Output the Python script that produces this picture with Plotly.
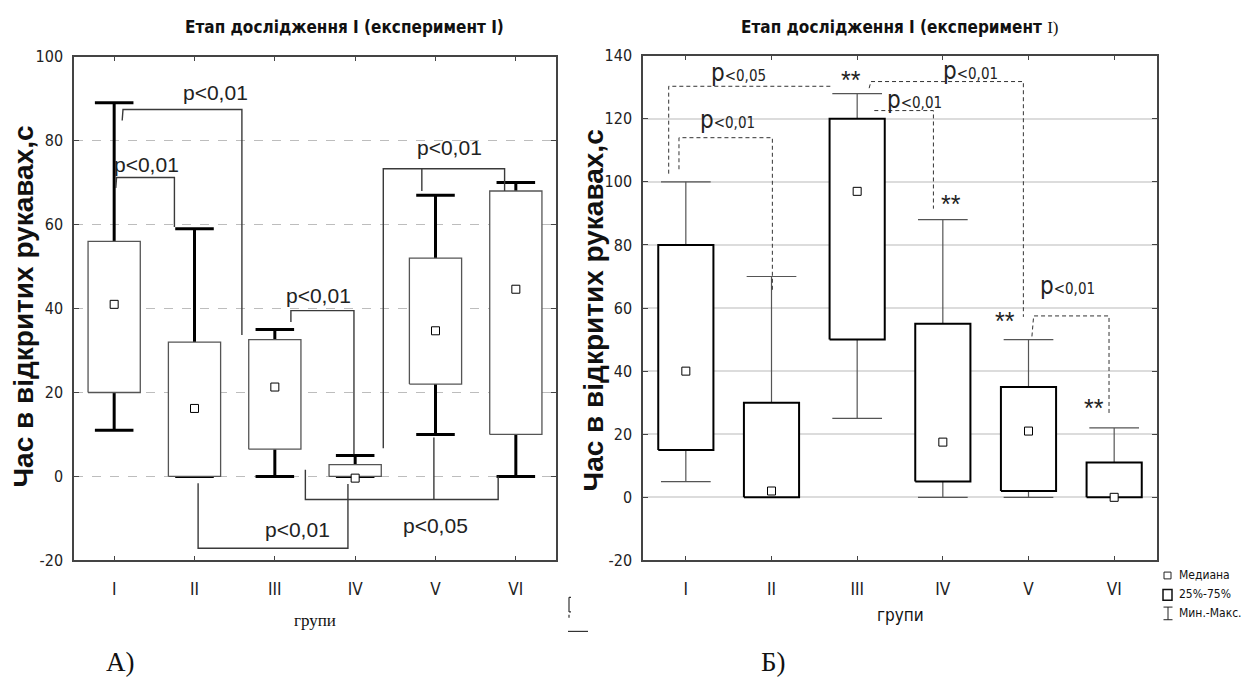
import plotly.graph_objects as go

W, H = 1246, 691

# ---------------- data ----------------
groups = ["I", "II", "III", "IV", "V", "VI"]
positions = [1, 2, 3, 4, 5, 6]

# Panel A (left)
a_min = [11, 0, 0, 0, 10, 0]
a_q1 = [20, 0, 6.5, 0, 22, 10]
a_med = [41, 16.2, 21.3, -0.4, 34.7, 44.6]
a_q3 = [56, 32, 32.6, 2.8, 52, 68]
a_max = [89, 59, 35, 5, 67, 70]

# Panel Б (right)
b_min = [5, 0, 25, 0, 0, 0]
b_q1 = [15, 0, 50, 5, 2, 0]
b_med = [40, 2, 97, 17.5, 21, 0]
b_q3 = [80, 30, 120, 55, 35, 11]
b_max = [100, 70, 128, 88, 50, 22]

a_yticks = [-20, 0, 20, 40, 60, 80, 100]
b_yticks = [-20, 0, 20, 40, 60, 80, 100, 120, 140]

# significance brackets (polylines in data units) and their labels
a_brackets = [
    [(1.10, 84.8), (1.11, 87.4), (2.59, 87.4), (2.59, 33.7)],
    [(1.02, 68.7), (1.03, 71.2), (1.75, 71.2), (1.75, 59.4)],
    [(3.20, 36.8), (3.20, 39.5), (3.985, 39.5), (3.985, 5.3)],
    [(4.35, 6.7), (4.35, 73.3), (5.86, 73.3), (5.86, 68)],
    [(4.83, 73.3), (4.83, 68)],
    [(2.045, -1.6), (2.045, -17.1), (3.91, -17.1), (3.91, -1.8)],
    [(3.38, 1.6), (3.38, -5.5), (5.78, -5.5), (5.78, 0)],
    [(4.98, 9.3), (4.98, -5.5)],
]
a_labels = [
    ("p<0,01", 2.26, 91.5),
    ("p<0,01", 1.40, 74.4),
    ("p<0,01", 3.54, 43.0),
    ("p<0,01", 5.18, 78.4),
    ("p<0,01", 3.28, -12.7),
    ("p<0,05", 5.00, -11.6),
]

b_brackets = [
    [(0.80, 102.6), (0.80, 130.3), (2.70, 130.3)],
    [(0.92, 104), (0.92, 114), (2.01, 114), (2.01, 65.6)],
    [(3.20, 122.6), (3.89, 122.6), (3.89, 91.5)],
    [(3.14, 129.7), (3.16, 131.8), (4.94, 131.8), (4.94, 57.2)],
    [(5.04, 51), (5.06, 57.5), (5.94, 57.5), (5.94, 26)],
]
b_labels = [
    ("0,05", 1.62, 134.4),
    ("0,01", 1.49, 119.5),
    ("0,01", 3.67, 126.0),
    ("0,01", 4.32, 135.0),
    ("0,01", 5.46, 66.9),
]
b_stars = [(2.93, 132.3), (4.10, 93.0), (4.73, 55.9), (5.76, 28.2)]

# ---------------- style ----------------
NARROW = "DejaVu Sans Condensed, Liberation Sans Narrow, Arial Narrow, Liberation Sans, sans-serif"
SANS = "Liberation Sans, Arial, sans-serif"
SERIF = "Liberation Serif, Times New Roman, serif"


def px(x):
    return x / W


def py(y):
    return 1 - y / H


fig = go.Figure()


def add_boxes(xa, ya, mn, q1, med, q3, mx, box_hw, cap_hw, wcol, ww, bcol, bw):
    wx, wy = [], []
    for p, lo, a, b, hi in zip(positions, mn, q1, q3, mx):
        wx += [p, p, None, p, p, None, p - cap_hw, p + cap_hw, None, p - cap_hw, p + cap_hw, None]
        wy += [b, hi, None, lo, a, None, hi, hi, None, lo, lo, None]
    fig.add_trace(go.Scatter(x=wx, y=wy, mode="lines", line=dict(color=wcol, width=ww),
                             xaxis=xa, yaxis=ya, hoverinfo="skip", showlegend=False))
    bx, by = [], []
    for p, a, b in zip(positions, q1, q3):
        bx += [p - box_hw, p + box_hw, p + box_hw, p - box_hw, p - box_hw, None]
        by += [a, a, b, b, a, None]
    fig.add_trace(go.Scatter(x=bx, y=by, mode="lines", fill="toself", fillcolor="white",
                             line=dict(color=bcol, width=bw), xaxis=xa, yaxis=ya,
                             hoverinfo="skip", showlegend=False))
    fig.add_trace(go.Scatter(x=positions, y=med, mode="markers",
                             marker=dict(symbol="square", size=8, color="white",
                                         line=dict(color="black", width=1)),
                             xaxis=xa, yaxis=ya, showlegend=False))


# Panel A
add_boxes("x", "y", a_min, a_q1, a_med, a_q3, a_max, 0.325, 0.24, "black", 3, "#555555", 1.3)
for br in a_brackets:
    fig.add_trace(go.Scatter(x=[p[0] for p in br], y=[p[1] for p in br], mode="lines",
                             line=dict(color="#3a3a3a", width=1.4), xaxis="x", yaxis="y",
                             hoverinfo="skip", showlegend=False))
for t, x, y in a_labels:
    fig.add_annotation(x=x, y=y, xref="x", yref="y", text=t.replace("<", "&lt;"), showarrow=False,
                       font=dict(family=SANS, size=21, color="#222"))

# Panel Б
add_boxes("x2", "y2", b_min, b_q1, b_med, b_q3, b_max, 0.322, 0.29, "#555555", 1.2, "black", 2)
for br in b_brackets:
    fig.add_trace(go.Scatter(x=[p[0] for p in br], y=[p[1] for p in br], mode="lines",
                             line=dict(color="#333333", width=1, dash="4px,3px"), xaxis="x2", yaxis="y2",
                             hoverinfo="skip", showlegend=False))
for t, x, y in b_labels:
    fig.add_annotation(x=x, y=y, xref="x2", yref="y2",
                       text="<span style='font-size:24px'>p</span>&lt;" + t, showarrow=False,
                       font=dict(family=NARROW, size=15, color="#222"))
for x, y in b_stars:
    fig.add_annotation(x=x, y=y, xref="x2", yref="y2", text="**", showarrow=False,
                       font=dict(family=SANS, size=25, color="#222"))

# ---------------- axes ----------------
common = dict(showline=True, linecolor="#444444", linewidth=1.5, mirror="ticks",
              ticks="inside", ticklen=5, tickcolor="#444444", zeroline=False)
fig.update_layout(
    width=W, height=H, margin=dict(l=0, r=0, t=0, b=0),
    paper_bgcolor="white", plot_bgcolor="white", showlegend=False,
    xaxis=dict(domain=[px(74), px(556)], range=[0.5, 6.5], tickvals=positions, ticktext=groups,
               showgrid=False, anchor="y", ticklabelstandoff=12,
               tickfont=dict(family=NARROW, size=17, color="#222"), **common),
    yaxis=dict(domain=[py(567), py(49)], range=[-20, 100], tickvals=a_yticks,
               ticktext=[str(v) for v in a_yticks], anchor="x",
               showgrid=True, gridcolor="#bdbdbd", griddash="dash", gridwidth=1,
               ticklabelstandoff=6, tickfont=dict(family=NARROW, size=16, color="#222"), **common),
    xaxis2=dict(domain=[px(643), px(1157)], range=[0.5, 6.5], tickvals=positions, ticktext=groups,
                showgrid=False, anchor="y2", ticklabelstandoff=12,
                tickfont=dict(family=NARROW, size=17, color="#222"), **common),
    yaxis2=dict(domain=[py(567), py(48)], range=[-20, 140], tickvals=b_yticks,
                ticktext=[str(v) for v in b_yticks], anchor="x2",
                showgrid=True, gridcolor="#dcdcdc", gridwidth=1.5,
                ticklabelstandoff=6, tickfont=dict(family=NARROW, size=16, color="#222"), **common),
)


# ---------------- text ----------------
def ann(text, x, y, size, family, angle=0, color="#111", xanchor="center"):
    fig.add_annotation(x=px(x), y=py(y), xref="paper", yref="paper", text=text, showarrow=False,
                       textangle=angle, xanchor=xanchor, yanchor="middle",
                       font=dict(family=family, size=size, color=color))


ann("<b>Етап дослідження I (експеримент I)</b>", 344, 19, 17, NARROW)
ann("<b>Етап дослідження I (експеримент </b><span style='font-family:Liberation Serif'>I)</span>",
    900, 19, 17, NARROW)
ann("<b>Час в відкритих рукавах,с</b>", 24, 306, 28, SANS, angle=-90)
ann("<b>Час в відкритих рукавах,с</b>", 593, 310, 28, SANS, angle=-90)
ann("групи", 315, 629, 17, SERIF)
ann("групи", 900, 623, 17, NARROW)
ann("А)", 120, 671, 27, SERIF)
ann("Б)", 773, 671, 27, SERIF)

# legend (bottom right)
ann("Медиана", 1177, 582, 12, NARROW, xanchor="left")
ann("25%-75%", 1177, 602, 12, NARROW, xanchor="left")
ann("Мин.-Макс.", 1177, 621, 12, NARROW, xanchor="left")
shape_line = dict(color="#222", width=1)
fig.add_shape(type="rect", xref="paper", yref="paper", x0=px(1164), x1=px(1171), y0=py(586), y1=py(579),
              line=shape_line, fillcolor="white")
fig.add_shape(type="rect", xref="paper", yref="paper", x0=px(1163), x1=px(1172), y0=py(608), y1=py(597),
              line=dict(color="#111", width=1.5), fillcolor="white")
for (x0, y0, x1, y1) in [(1168, 615, 1168, 628), (1163.5, 615, 1172.5, 615), (1163.5, 628, 1172.5, 628)]:
    fig.add_shape(type="line", xref="paper", yref="paper", x0=px(x0), y0=py(y0), x1=px(x1), y1=py(y1),
                  line=shape_line)

# small stray marks near the middle
for (x0, y0, x1, y1) in [(569, 605, 569, 620), (569, 605, 571, 605), (569, 620, 571, 620),
                         (569, 623, 569, 626), (568, 640, 588, 640)]:
    fig.add_shape(type="line", xref="paper", yref="paper", x0=px(x0), y0=py(y0), x1=px(x1), y1=py(y1),
                  line=dict(color="#333", width=1.2))

fig.write_html("out.html")
